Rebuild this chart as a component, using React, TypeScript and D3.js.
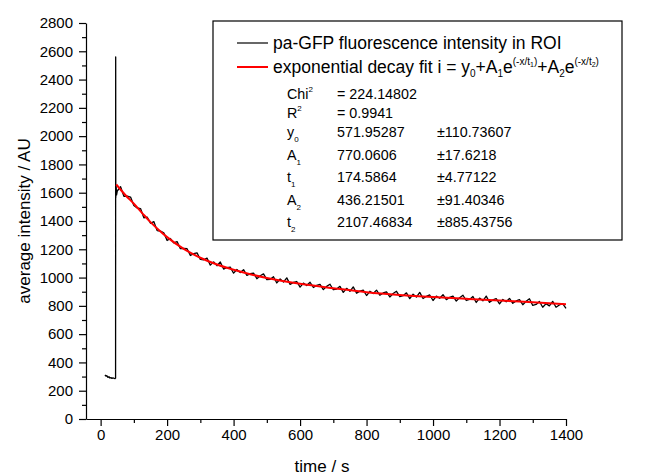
import { useEffect, useRef } from "react";
import * as d3 from "d3";

// raw trace before the photo-activation pulse
const preTime = [13, 16, 19, 22, 25, 28, 31, 34, 37, 40, 43, 45];
const preValue = [312, 303, 306, 294, 299, 290, 293, 287, 291, 288, 285, 289];

// activation spike and first points after it
const spikeTime = [45.3, 45.6, 46.5, 48];
const spikeValue = [2560, 1565, 1650, 1585];

// decaying trace, sampled every 10 s from 50 s to 1400 s
const decayTime = d3.range(50, 1401, 10);
const decayValue = [
  1612, 1642, 1575, 1576, 1569, 1510, 1492, 1488, 1423, 1428,
  1384, 1396, 1332, 1328, 1317, 1262, 1276, 1245, 1254, 1204,
  1207, 1204, 1156, 1169, 1175, 1128, 1126, 1138, 1088, 1111,
  1084, 1110, 1060, 1071, 1074, 1031, 1057, 1036, 1056, 1016,
  1028, 1032, 992, 1013, 1026, 985, 988, 1006, 962, 990,
  968, 998, 952, 966, 972, 932, 961, 944, 967, 930,
  945, 952, 915, 938, 953, 914, 919, 938, 895, 924,
  903, 934, 889, 904, 911, 873, 903, 887, 911, 875,
  891, 899, 863, 887, 903, 865, 872, 892, 851, 882,
  862, 895, 852, 868, 877, 838, 869, 854, 879, 844,
  860, 869, 834, 858, 875, 838, 845, 866, 824, 855,
  836, 869, 825, 842, 851, 814, 845, 829, 853, 818,
  835, 844, 808, 833, 850, 803, 810, 831, 790, 816,
  800, 832, 790, 806, 815, 782,
];

// double exponential fit
const fitTime = [47, 75, 100, 125, 150, 175, 200, 250, 300, 350, 400, 450, 500, 600, 700, 800, 900, 1000, 1100, 1200, 1300, 1400];
const fitValue = [1658, 1582, 1522, 1456, 1392, 1337, 1286, 1203, 1140, 1092, 1055, 1024, 997, 956, 925, 897, 877, 862, 850, 838, 825, 812];

const xTicks = [0, 200, 400, 600, 800, 1000, 1200, 1400];
const xMinorTicks = [100, 300, 500, 700, 900, 1100, 1300];
const yTicks = [0, 200, 400, 600, 800, 1000, 1200, 1400, 1600, 1800, 2000, 2200, 2400, 2600, 2800];
const yMinorTicks = [100, 300, 500, 700, 900, 1100, 1300, 1500, 1700, 1900, 2100, 2300, 2500, 2700];

const paramNames = ["y", "A", "t", "A", "t"];
const paramSubs = ["0", "1", "1", "2", "2"];
const paramValues = ["571.95287", "770.0606", "174.5864", "436.21501", "2107.46834"];
const paramErrors = ["±110.73607", "±17.6218", "±4.77122", "±91.40346", "±885.43756"];

const FONT = "'Liberation Sans', Arial, Helvetica, sans-serif";

function DecayChart() {
  const ref = useRef(null);

  useEffect(() => {
    const g = d3.select(ref.current);
    g.selectAll("*").remove();

    const x = d3.scaleLinear().domain([-44, 1400]).range([86, 566]);
    const y = d3.scaleLinear().domain([0, 2800]).range([419, 23]);
    const plain = (d) => String(d);

    // axes
    const styleAxis = (sel) => {
      sel.attr("font-family", FONT).attr("font-size", 15);
      sel.selectAll("path, line").attr("stroke", "#000").attr("stroke-width", 1.2);
      sel.selectAll("text").attr("fill", "#000");
    };

    g.append("g")
      .attr("transform", `translate(0,${y(0)})`)
      .call(d3.axisBottom(x).tickValues(xMinorTicks).tickSize(4).tickFormat(() => ""))
      .call((s) => s.select(".domain").remove())
      .call(styleAxis);
    g.append("g")
      .attr("transform", `translate(${x.range()[0]},0)`)
      .call(d3.axisLeft(y).tickValues(yMinorTicks).tickSize(4).tickFormat(() => ""))
      .call((s) => s.select(".domain").remove())
      .call(styleAxis);

    g.append("g")
      .attr("transform", `translate(0,${y(0)})`)
      .call(d3.axisBottom(x).tickValues(xTicks).tickFormat(plain).tickSize(7).tickSizeOuter(0).tickPadding(3))
      .call(styleAxis);
    g.append("g")
      .attr("transform", `translate(${x.range()[0]},0)`)
      .call(d3.axisLeft(y).tickValues(yTicks).tickFormat(plain).tickSize(7).tickSizeOuter(0).tickPadding(6))
      .call(styleAxis);

    // raw trace
    const trace = [
      ...preTime.map((t, i) => [t, preValue[i]]),
      ...spikeTime.map((t, i) => [t, spikeValue[i]]),
      ...decayTime.map((t, i) => [t, decayValue[i]]),
    ];
    const line = d3.line().x((d) => x(d[0])).y((d) => y(d[1]));
    g.append("path")
      .datum(trace)
      .attr("fill", "none")
      .attr("stroke", "#000")
      .attr("stroke-width", 1.3)
      .attr("stroke-linejoin", "round")
      .attr("d", line);

    // fit
    g.append("path")
      .datum(fitTime.map((t, i) => [t, fitValue[i]]))
      .attr("fill", "none")
      .attr("stroke", "#ff0000")
      .attr("stroke-width", 2)
      .attr("d", line.curve(d3.curveMonotoneX));
  }, []);

  return <g ref={ref} />;
}

function Legend() {
  const rows = [99, 118, 137, 160, 182, 205, 227];
  const f = 14.3;
  return (
    <g fontFamily={FONT} fill="#000">
      <rect x={213} y={21} width={409} height={219} fill="#fff" stroke="#000" strokeWidth={1.2} />
      <line x1={237} x2={268} y1={43} y2={43} stroke="#000" strokeWidth={1.2} />
      <line x1={237} x2={268} y1={67} y2={67} stroke="#ff0000" strokeWidth={2} />
      <text x={273} y={49} fontSize={17.5}>pa-GFP fluorescence intensity in ROI</text>
      <text x={273} y={73} fontSize={17.5}>
        exponential decay fit i = y
        <tspan dy={4} fontSize={10}>0</tspan>
        <tspan dy={-4}>+A</tspan>
        <tspan dy={4} fontSize={10}>1</tspan>
        <tspan dy={-4}>e</tspan>
        <tspan dy={-8} fontSize={10}>(-x/t</tspan>
        <tspan dy={2} fontSize={7}>1</tspan>
        <tspan dy={-2} fontSize={10}>)</tspan>
        <tspan dy={8}>+A</tspan>
        <tspan dy={4} fontSize={10}>2</tspan>
        <tspan dy={-4}>e</tspan>
        <tspan dy={-8} fontSize={10}>(-x/t</tspan>
        <tspan dy={2} fontSize={7}>2</tspan>
        <tspan dy={-2} fontSize={10}>)</tspan>
      </text>
      <text x={287} y={rows[0]} fontSize={f}>
        Chi<tspan dy={-7} fontSize={8}>2</tspan>
      </text>
      <text x={337} y={rows[0]} fontSize={f}>=  224.14802</text>
      <text x={287} y={rows[1]} fontSize={f}>
        R<tspan dy={-7} fontSize={8}>2</tspan>
      </text>
      <text x={337} y={rows[1]} fontSize={f}>=  0.9941</text>
      {paramNames.map((n, i) => (
        <g key={i}>
          <text x={287} y={rows[i + 2]} fontSize={f}>
            {n}
            <tspan dy={5} fontSize={8}>{paramSubs[i]}</tspan>
          </text>
          <text x={337} y={rows[i + 2]} fontSize={f}>{paramValues[i]}</text>
          <text x={437} y={rows[i + 2]} fontSize={f}>{paramErrors[i]}</text>
        </g>
      ))}
    </g>
  );
}

export default function App() {
  return (
    <svg
      width={646}
      height={475}
      style={{ position: "absolute", left: 0, top: 0, background: "#fff" }}
    >
      <DecayChart />
      <Legend />
      <text
        transform="translate(30,221) rotate(-90)"
        textAnchor="middle"
        fontFamily={FONT}
        fontSize={17}
      >
        average intensity / AU
      </text>
      <text x={322} y={472} textAnchor="middle" fontFamily={FONT} fontSize={17}>
        time / s
      </text>
    </svg>
  );
}
